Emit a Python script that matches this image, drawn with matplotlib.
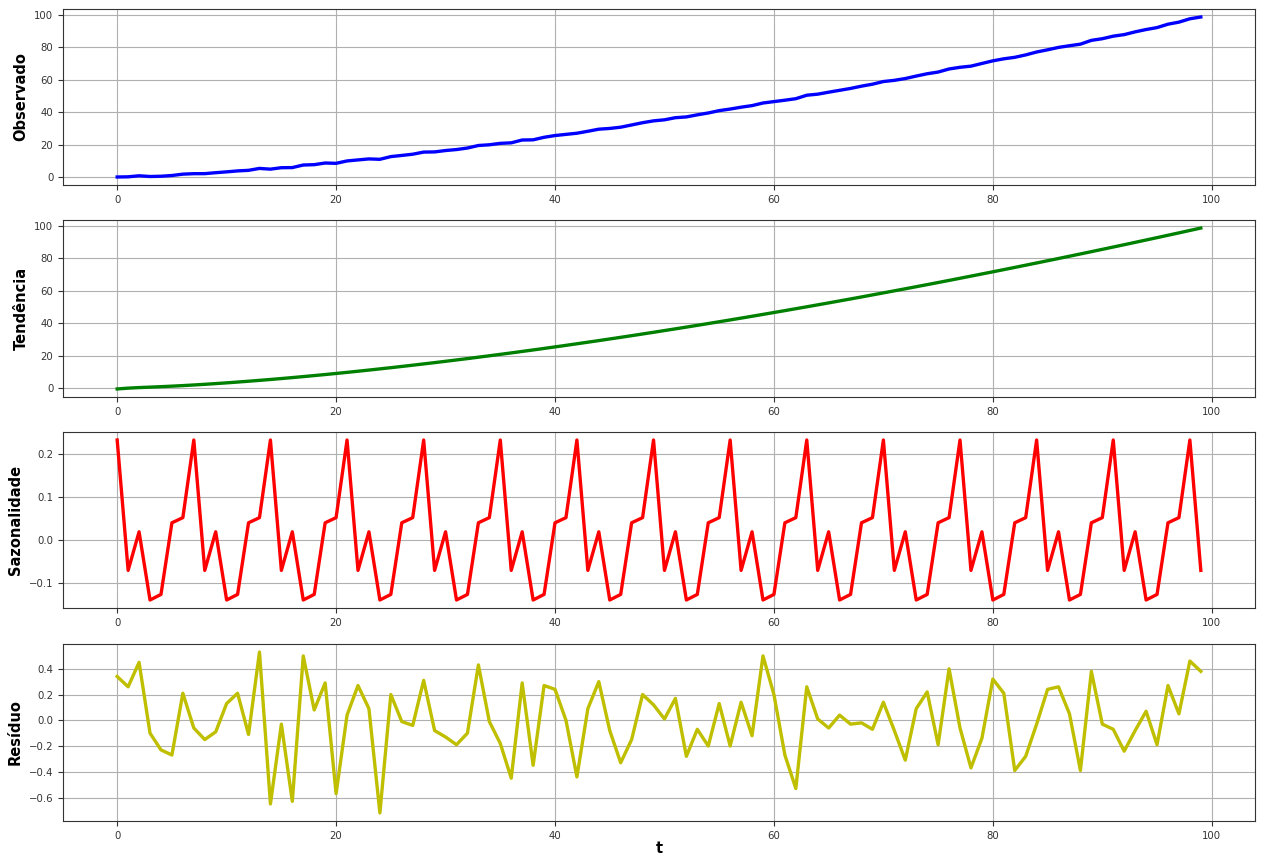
import numpy as np
import matplotlib
matplotlib.use("Agg")
import matplotlib.pyplot as plt
from matplotlib.ticker import MultipleLocator

t = list(range(100))

observado = [-0.03, 0.09, 0.72, 0.28, 0.44, 0.89, 1.73, 2.02, 2.04, 2.63,
             3.15, 3.73, 4.09, 5.27, 4.82, 5.71, 5.79, 7.37, 7.59, 8.61,
             8.42, 9.89, 10.52, 11.14, 10.90, 12.57, 13.29, 14.04, 15.36, 15.47,
             16.32, 16.93, 17.87, 19.43, 19.87, 20.76, 21.08, 22.82, 22.93, 24.50,
             25.58, 26.30, 27.01, 28.22, 29.51, 29.97, 30.74, 32.11, 33.51, 34.65,
             35.30, 36.61, 37.08, 38.38, 39.52, 40.97, 41.94, 43.10, 44.07, 45.68,
             46.55, 47.41, 48.34, 50.49, 51.14, 52.36, 53.52, 54.68, 56.09, 57.30,
             58.94, 59.68, 60.80, 62.32, 63.75, 64.80, 66.70, 67.74, 68.45, 70.10,
             71.73, 72.98, 73.90, 75.39, 77.19, 78.54, 80.03, 81.06, 82.03, 84.38,
             85.40, 86.97, 87.93, 89.63, 91.07, 92.27, 94.37, 95.63, 97.71, 98.81]

tendencia = [-0.6, -0.1, 0.25, 0.52, 0.8, 1.12, 1.47, 1.85, 2.26, 2.7,
             3.16, 3.65, 4.16, 4.69, 5.24, 5.81, 6.4, 7.01, 7.64, 8.28,
             8.94, 9.62, 10.32, 11.03, 11.76, 12.5, 13.26, 14.03, 14.82, 15.62,
             16.43, 17.26, 18.1, 18.96, 19.83, 20.71, 21.6, 22.51, 23.42, 24.36,
             25.3, 26.25, 27.22, 28.2, 29.19, 30.19, 31.2, 32.22, 33.26, 34.3,
             35.36, 36.42, 37.5, 38.58, 39.68, 40.79, 41.91, 43.03, 44.17, 45.32,
             46.48, 47.64, 48.82, 50.0, 51.2, 52.4, 53.62, 54.84, 56.07, 57.32,
             58.57, 59.83, 61.09, 62.37, 63.66, 64.95, 66.25, 67.57, 68.89, 70.22,
             71.55, 72.9, 74.25, 75.62, 76.99, 78.37, 79.75, 81.15, 82.55, 83.96,
             85.38, 86.81, 88.24, 89.69, 91.14, 92.59, 94.06, 95.53, 97.02, 98.5]

sazonalidade = [0.233, -0.071, 0.019, -0.14, -0.127, 0.04, 0.052,
                0.233, -0.071, 0.019, -0.14, -0.127, 0.04, 0.052,
                0.233, -0.071, 0.019, -0.14, -0.127, 0.04, 0.052,
                0.233, -0.071, 0.019, -0.14, -0.127, 0.04, 0.052,
                0.233, -0.071, 0.019, -0.14, -0.127, 0.04, 0.052,
                0.233, -0.071, 0.019, -0.14, -0.127, 0.04, 0.052,
                0.233, -0.071, 0.019, -0.14, -0.127, 0.04, 0.052,
                0.233, -0.071, 0.019, -0.14, -0.127, 0.04, 0.052,
                0.233, -0.071, 0.019, -0.14, -0.127, 0.04, 0.052,
                0.233, -0.071, 0.019, -0.14, -0.127, 0.04, 0.052,
                0.233, -0.071, 0.019, -0.14, -0.127, 0.04, 0.052,
                0.233, -0.071, 0.019, -0.14, -0.127, 0.04, 0.052,
                0.233, -0.071, 0.019, -0.14, -0.127, 0.04, 0.052,
                0.233, -0.071, 0.019, -0.14, -0.127, 0.04, 0.052,
                0.233, -0.071]

residuo = [0.34, 0.26, 0.45, -0.10, -0.23, -0.27, 0.21, -0.06, -0.15, -0.09,
           0.13, 0.21, -0.11, 0.53, -0.65, -0.03, -0.63, 0.50, 0.08, 0.29,
           -0.57, 0.04, 0.27, 0.09, -0.72, 0.20, -0.01, -0.04, 0.31, -0.08,
           -0.13, -0.19, -0.10, 0.43, -0.01, -0.18, -0.45, 0.29, -0.35, 0.27,
           0.24, 0.00, -0.44, 0.09, 0.30, -0.08, -0.33, -0.15, 0.20, 0.12,
           0.01, 0.17, -0.28, -0.07, -0.20, 0.13, -0.20, 0.14, -0.12, 0.50,
           0.20, -0.27, -0.53, 0.26, 0.01, -0.06, 0.04, -0.03, -0.02, -0.07,
           0.14, -0.08, -0.31, 0.09, 0.22, -0.19, 0.40, -0.06, -0.37, -0.14,
           0.32, 0.21, -0.39, -0.28, -0.03, 0.24, 0.26, 0.05, -0.39, 0.38,
           -0.03, -0.07, -0.24, -0.08, 0.07, -0.19, 0.27, 0.05, 0.46, 0.38]

series = [observado, tendencia, sazonalidade, residuo]
labels = ["Observado", "Tendência", "Sazonalidade", "Resíduo"]
colors = ["b", "g", "r", "y"]
ysteps = [20, 20, 0.1, 0.2]

W, H = 1261, 857
fig = plt.figure(figsize=(W / 100, H / 100), dpi=100)
panels = [(9, 185), (220, 397), (432, 608), (644, 821)]
left, right = 63, 1255

for (top, bot), ys, lab, col, step in zip(panels, series, labels, colors, ysteps):
    ax = fig.add_axes([left / W, 1 - bot / H, (right - left) / W, (bot - top) / H])
    ax.plot(t, ys, color=col, linewidth=2.4)
    ax.yaxis.set_major_locator(MultipleLocator(step))
    ax.grid(True, color="#b0b0b0", linewidth=0.8)
    ax.set_axisbelow(True)
    ax.set_ylabel(lab, fontsize=10.5, fontweight="bold")
    ax.tick_params(labelsize=7.3, colors="#333333")
    for s in ax.spines.values():
        s.set_color("#333333")
    if lab == "Resíduo":
        ax.set_xlabel("t", fontsize=10.5, fontweight="bold", labelpad=0)

fig.savefig("out.png", dpi=100)
